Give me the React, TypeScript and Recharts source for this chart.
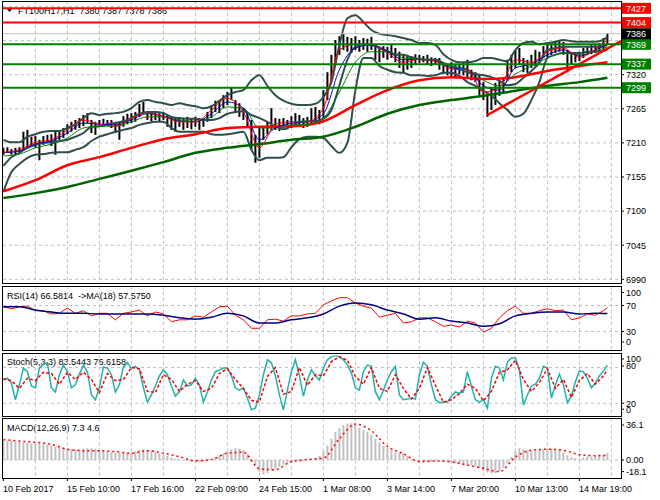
import React from 'react';
import { ComposedChart, Line, Bar, XAxis, YAxis, ReferenceLine, CartesianGrid } from 'recharts';

// FT100H17, H1 - one price bar kept for every second hourly bar
const barHigh = [
  7202, 7203, 7200, 7202, 7203, 7228, 7231, 7220, 7221, 7215,
  7221, 7223, 7224, 7228, 7228, 7234, 7240, 7244, 7247, 7250,
  7255, 7258, 7247, 7244, 7247, 7249, 7247, 7247, 7244, 7242,
  7253, 7257, 7258, 7260, 7273, 7276, 7261, 7260, 7260, 7258,
  7260, 7255, 7252, 7250, 7250, 7249, 7252, 7250, 7252, 7250,
  7249, 7260, 7271, 7278, 7279, 7287, 7292, 7299, 7279, 7274,
  7266, 7260, 7247, 7223, 7236, 7236, 7244, 7266, 7250, 7249,
  7250, 7247, 7253, 7258, 7255, 7250, 7252, 7266, 7268, 7263,
  7295, 7324, 7352, 7376, 7382, 7386, 7381, 7379, 7382, 7376,
  7379, 7378, 7381, 7368, 7365, 7366, 7365, 7368, 7363, 7357,
  7353, 7352, 7350, 7353, 7352, 7350, 7352, 7348, 7347, 7347,
  7337, 7336, 7340, 7336, 7337, 7340, 7344, 7328, 7324, 7319,
  7308, 7292, 7299, 7307, 7311, 7315, 7344, 7352, 7360, 7363,
  7347, 7344, 7352, 7360, 7357, 7366, 7368, 7369, 7373, 7376,
  7373, 7360, 7355, 7353, 7357, 7363, 7366, 7368, 7369, 7371,
  7379, 7387,
];
const barLow = [
  7191, 7194, 7191, 7192, 7194, 7199, 7202, 7205, 7202, 7182,
  7207, 7210, 7205, 7191, 7215, 7218, 7224, 7228, 7231, 7234,
  7237, 7242, 7226, 7223, 7236, 7236, 7237, 7234, 7226, 7215,
  7236, 7240, 7242, 7244, 7252, 7257, 7247, 7245, 7247, 7244,
  7247, 7236, 7231, 7228, 7236, 7231, 7234, 7232, 7236, 7231,
  7236, 7244, 7250, 7260, 7258, 7266, 7271, 7279, 7258, 7252,
  7247, 7236, 7199, 7178, 7186, 7215, 7224, 7231, 7231, 7229,
  7234, 7232, 7234, 7239, 7236, 7234, 7236, 7239, 7244, 7240,
  7250, 7279, 7311, 7339, 7352, 7360, 7357, 7355, 7360, 7357,
  7360, 7357, 7360, 7344, 7340, 7347, 7344, 7347, 7340, 7331,
  7324, 7328, 7331, 7337, 7339, 7340, 7337, 7334, 7336, 7328,
  7321, 7319, 7318, 7316, 7321, 7319, 7315, 7311, 7308, 7287,
  7279, 7252, 7263, 7271, 7286, 7292, 7311, 7324, 7331, 7336,
  7324, 7323, 7331, 7334, 7340, 7347, 7348, 7352, 7355, 7357,
  7352, 7324, 7337, 7340, 7342, 7347, 7352, 7353, 7355, 7357,
  7360, 7368,
];

// Bollinger bands, every 4th bar
const bbUpper = [
  7215, 7211, 7211, 7220, 7224, 7228, 7229, 7229, 7234, 7240,
  7250, 7258, 7255, 7257, 7258, 7260, 7266, 7276, 7279, 7276,
  7274, 7271, 7274, 7271, 7269, 7266, 7269, 7278, 7287, 7292,
  7295, 7311, 7319, 7302, 7287, 7278, 7273, 7271, 7271, 7273,
  7284, 7308, 7368, 7411, 7416, 7405, 7392, 7386, 7384, 7382,
  7379, 7376, 7371, 7371, 7368, 7353, 7344, 7340, 7340, 7342,
  7347, 7347, 7344, 7342, 7360, 7371, 7373, 7369, 7371, 7373,
  7376, 7374, 7373, 7373, 7373, 7376, 7381,
];
const bbMiddle = [
  7173, 7187, 7194, 7202, 7207, 7210, 7211, 7213, 7215, 7220,
  7226, 7236, 7237, 7240, 7242, 7245, 7250, 7257, 7260, 7260,
  7258, 7252, 7250, 7249, 7249, 7247, 7247, 7250, 7257, 7260,
  7261, 7255, 7250, 7244, 7237, 7232, 7237, 7244, 7245, 7245,
  7249, 7263, 7303, 7344, 7365, 7369, 7368, 7363, 7358, 7353,
  7352, 7348, 7345, 7344, 7344, 7339, 7334, 7329, 7324, 7321,
  7319, 7316, 7310, 7303, 7305, 7315, 7326, 7339, 7360, 7363,
  7365, 7365, 7365, 7365, 7365, 7366, 7369,
];
const bbLower = [
  7131, 7163, 7176, 7186, 7191, 7192, 7194, 7195, 7195, 7199,
  7203, 7213, 7220, 7224, 7228, 7231, 7234, 7239, 7242, 7244,
  7244, 7234, 7228, 7228, 7228, 7228, 7224, 7223, 7224, 7226,
  7228, 7199, 7182, 7186, 7186, 7187, 7203, 7216, 7220, 7220,
  7218, 7205, 7194, 7210, 7295, 7347, 7347, 7334, 7328, 7324,
  7323, 7319, 7319, 7318, 7319, 7323, 7323, 7318, 7308, 7302,
  7294, 7286, 7274, 7263, 7252, 7257, 7279, 7308, 7347, 7352,
  7355, 7355, 7355, 7357, 7357, 7358, 7360,
];

// fast averages, every 8th bar
const emaRed = [
  7195, 7199, 7211, 7215, 7231, 7247, 7240, 7237, 7250, 7258,
  7253, 7244, 7244, 7263, 7282, 7260, 7202, 7240, 7244, 7244,
  7266, 7360, 7369, 7369, 7355, 7340, 7345, 7342, 7329, 7328,
  7292, 7299, 7344, 7340, 7357, 7363, 7348, 7361, 7376,
];
const emaBlue = [
  7194, 7197, 7208, 7213, 7226, 7242, 7240, 7239, 7247, 7257,
  7253, 7245, 7244, 7257, 7276, 7266, 7215, 7234, 7242, 7244,
  7257, 7328, 7363, 7368, 7358, 7344, 7345, 7342, 7331, 7328,
  7302, 7295, 7331, 7337, 7352, 7360, 7350, 7360, 7369,
];
const emaGreen = [
  7189, 7192, 7202, 7208, 7218, 7234, 7237, 7237, 7244, 7252,
  7252, 7247, 7245, 7252, 7268, 7266, 7234, 7234, 7239, 7240,
  7250, 7292, 7340, 7357, 7357, 7347, 7345, 7342, 7334, 7329,
  7311, 7302, 7321, 7334, 7347, 7355, 7352, 7358, 7365,
];

// slow averages, every 16th bar
const maRed = [
  7132, 7150, 7174, 7187, 7202, 7216, 7224, 7234, 7236, 7237,
  7245, 7271, 7295, 7311, 7316, 7313, 7316, 7326, 7334, 7340,
];
const maGreen = [
  7121, 7129, 7139, 7152, 7165, 7179, 7194, 7202, 7208, 7215,
  7220, 7236, 7257, 7271, 7279, 7286, 7294, 7302, 7308, 7315,
];

const trendBars = [242, 308.8];
const trendPrices = [7255, 7374];

const resistance = [7427, 7404];
const support = [7369, 7337, 7299];
const lastPrice = 7386;
const priceTicks = [7320, 7265, 7210, 7155, 7100, 7045, 6990];
const priceGrid = [6990, 7045, 7100, 7155, 7210, 7265, 7320, 7375, 7430];

// RSI(14) every 4th bar, its MA(18) every 8th bar
const rsi = [
  68, 65, 68, 69, 62, 62, 57, 58, 66, 58,
  62, 54, 58, 58, 48, 58, 60, 63, 54, 60,
  57, 45, 48, 48, 54, 52, 60, 68, 69, 55,
  48, 35, 35, 48, 49, 46, 54, 54, 57, 58,
  71, 77, 82, 82, 74, 69, 66, 52, 55, 58,
  43, 45, 51, 51, 45, 38, 40, 37, 46, 43,
  29, 35, 51, 62, 69, 58, 58, 62, 65, 62,
  63, 48, 51, 57, 55, 62, 66.58,
];
const rsiMa = [
  68, 68, 63, 60, 58, 58, 57, 57, 57, 57,
  55, 51, 49, 52, 58, 54, 43, 43, 48, 51,
  57, 69, 74, 71, 63, 57, 49, 51, 46, 43,
  38, 42, 54, 58, 60, 60, 57, 58, 57.58,
];

// Stochastic(5,3,3): %K every 2nd bar, %D every 4th bar
const stochK = [
  59, 62, 54, 26, 51, 79, 73, 49, 46, 79,
  86, 88, 46, 39, 68, 84, 73, 46, 51, 69,
  84, 73, 34, 26, 46, 81, 79, 68, 39, 51,
  81, 88, 79, 82, 76, 46, 22, 34, 49, 66,
  76, 68, 49, 32, 39, 59, 49, 51, 62, 51,
  22, 39, 59, 73, 76, 79, 79, 66, 46, 42,
  46, 29, 9, 12, 34, 68, 93, 88, 66, 34,
  9, 42, 73, 93, 66, 32, 59, 76, 66, 59,
  79, 93, 98, 100, 98, 93, 84, 71, 46, 42,
  73, 84, 82, 39, 26, 42, 59, 73, 82, 34,
  26, 27, 29, 27, 68, 89, 82, 51, 26, 21,
  22, 22, 32, 39, 37, 39, 73, 49, 26, 22,
  26, 12, 62, 82, 79, 59, 89, 96, 96, 76,
  17, 34, 49, 52, 62, 82, 79, 29, 51, 69,
  51, 21, 32, 56, 74, 73, 62, 46, 54, 66,
  74, 83.54,
];
const stochD = [
  61, 58, 45, 62, 58, 72, 70, 52, 72, 60,
  72, 60, 38, 70, 58, 60, 80, 78, 40, 38,
  68, 60, 40, 52, 58, 40, 45, 70, 78, 60,
  45, 25, 22, 65, 80, 35, 40, 80, 50, 68,
  66, 90, 98, 92, 65, 52, 80, 45, 40, 68,
  45, 27, 45, 80, 50, 22, 26, 36, 52, 45,
  24, 40, 72, 76, 92, 60, 40, 55, 78, 45,
  60, 30, 58, 70, 52, 66, 76.62,
];

// MACD(12,26,9): histogram every 2nd bar, signal every 8th bar
const macdHist = [
  20.6, 20, 19.5, 19, 18.5, 18, 17.5, 17, 17, 17,
  16.5, 16, 15, 14, 13, 12, 11.5, 11, 11, 11,
  11.5, 12, 12, 11.5, 10, 9, 8.5, 8, 7.5, 7.5,
  7, 7, 7.5, 9, 10.5, 11, 10.5, 10, 9, 7,
  5, 4, 2.5, 1.5, 0.5, -0.5, -1, -1.5, -1.5, -2,
  -1.5, -1, 0.5, 3, 5, 7, 9, 11, 12, 11.5,
  10, 6, 1, -6, -12, -15, -14, -11, -9, -7,
  -5, -3.5, -2.5, -2, -1.5, -1, -0.5, 0.5, 2, 4,
  9, 15, 22, 29, 33, 36, 37.5, 37.8, 36, 33,
  31, 29, 26, 22, 18, 14.5, 12, 10, 8, 7.5,
  7, 4, 1, -1, -2, -2.5, -2.5, -2, -1, -0.5,
  -1, -2, -3, -3.5, -4, -4.5, -5, -5.5, -6, -8,
  -11, -13, -14, -13.5, -11, -8, -3, 3, 9, 12,
  11, 10, 9, 9.5, 10.5, 11, 11.5, 12, 11.5, 11,
  8, 5, 3, 2, 1.5, 2.5, 3.5, 3.5, 4, 4.5,
  5.5, 7.3,
];
const macdSignal = [
  21, 19.5, 18.3, 16.2, 11, 9.6, 9.6, 8.6, 6.9, 9.6,
  7, 3.4, -0.8, 0.5, 7, 8, -9, -10, -1.5, 0.5,
  2, 22, 37, 30, 14, 6.5, -1.5, -1, -2, -5.2,
  -8.6, -12, 3, 10, 11, 10, 5.5, 4.5, 4.6,
];

const timeLabels = [
  '10 Feb 2017', '15 Feb 10:00', '17 Feb 16:00', '22 Feb 09:00', '24 Feb 15:00',
  '1 Mar 08:00', '3 Mar 14:00', '7 Mar 20:00', '10 Mar 13:00', '14 Mar 19:00',
];

const FONT = "'Liberation Sans', Arial, sans-serif";
const LAST_BAR = 302;
const X_DOMAIN = [-0.2, 308.8];
const gridBars = Array.from({ length: 19 }, (_, n) => (n + 1) * 16);
const labelBars = timeLabels.map((_, n) => n * 32);

const pts = (values: number[], step: number) =>
  values.map((v, n) => ({ i: n === values.length - 1 ? LAST_BAR : n * step, v }));

const candles = barHigh.map((h, n) => ({ i: n * 2, h, l: barLow[n] }));
const trend = trendBars.map((i, n) => ({ i, v: trendPrices[n] }));

const boxColor = (v: number) =>
  resistance.includes(v) ? '#FF0000' : support.includes(v) ? '#008000' : v === lastPrice ? '#000000' : null;

function PriceTick(props: any) {
  const { x, y, payload } = props;
  const fill = boxColor(payload.value);
  return (
    <g>
      <line x1={x} x2={x + 3} y1={y} y2={y} stroke="#000" />
      {fill && <rect x={x + 1} y={y - 5.5} width={29} height={11} fill={fill} />}
      <text x={x + 5} y={y + 3.3} fontSize={9} fontFamily={FONT} fill={fill ? '#fff' : '#000'}>
        {payload.value}
      </text>
    </g>
  );
}

const sideTick = (nudge: Record<string, number>, fmt = (v: number) => String(v)) => (props: any) => {
  const { x, y, payload } = props;
  const ty = y + (nudge[String(payload.value)] || 0);
  return (
    <g>
      <line x1={x} x2={x + 3} y1={ty} y2={ty} stroke="#000" />
      <text x={x + 5} y={ty + 3.3} fontSize={9} fontFamily={FONT} fill="#000">
        {fmt(payload.value)}
      </text>
    </g>
  );
};

function TimeTick(props: any) {
  const { x, y, payload } = props;
  return (
    <g>
      <line x1={x} x2={x} y1={y} y2={y + 3} stroke="#000" />
      <text x={x - 0.5} y={y + 14} fontSize={9} fontFamily={FONT} fill="#000">
        {timeLabels[Math.round(payload.value / 32)]}
      </text>
    </g>
  );
}

const grid = (values: number[]) => (
  <CartesianGrid stroke="#C0C0C0" strokeDasharray="3 3" verticalValues={gridBars} horizontalValues={values} />
);

const frame = (top: number, height: number) => ({
  position: 'absolute' as const, left: 2, top, width: 620, height,
  border: '1px solid #000', boxSizing: 'border-box' as const, pointerEvents: 'none' as const,
});
const at = (top: number) => ({ position: 'absolute' as const, left: 0, top });

export default function App() {
  const line = { dot: false, activeDot: false, isAnimationActive: false, dataKey: 'v', type: 'linear' as const };
  const smooth = { ...line, type: 'monotone' as const };
  return (
    <div style={{ position: 'absolute', left: 0, top: 0, width: 660, height: 500, background: '#fff', fontFamily: FONT }}>
      <svg width={660} height={500} style={{ position: 'absolute', left: 0, top: 0 }}>
        <polygon points="7,9 12,9 9.5,12" fill="#000" />
        <text x={18} y={14} fontSize={9} fontFamily={FONT} style={{ whiteSpace: 'pre' }}>FT100H17,H1  7380 7387 7378 7386</text>
        <text x={7} y={298.5} fontSize={9} fontFamily={FONT} style={{ whiteSpace: 'pre' }}>RSI(14) 66.5814  -&gt;MA(18) 57.5750</text>
        <text x={7} y={365} fontSize={9} fontFamily={FONT} style={{ whiteSpace: 'pre' }}>Stoch(5,3,3) 83.5443 76.6158</text>
        <text x={7} y={431} fontSize={9} fontFamily={FONT} style={{ whiteSpace: 'pre' }}>MACD(12,26,9) 7.3 4.6</text>
      </svg>

      <div style={at(0)}>
        <ComposedChart width={660} height={285} data={candles} margin={{ top: 1, right: 0, bottom: 2, left: 3 }}>
          {grid(priceGrid)}
          <XAxis type="number" dataKey="i" domain={X_DOMAIN} allowDataOverflow hide />
          <YAxis orientation="right" width={39} domain={[6984.1, 7438.8]} allowDataOverflow interval={0}
            ticks={[...priceTicks, ...support, lastPrice, ...resistance]}
            axisLine={false} tickLine={false} tickSize={0} tickMargin={0} tick={(p: any) => <PriceTick {...p} />} />
          <Bar dataKey={(d: any) => [d.l, d.h]} fill="#000" barSize={2} isAnimationActive={false} />
          <Line {...smooth} data={pts(bbUpper, 4)} stroke="#2F4F4F" strokeWidth={2} />
          <Line {...smooth} data={pts(bbMiddle, 4)} stroke="#2F4F4F" strokeWidth={2} />
          <Line {...smooth} data={pts(bbLower, 4)} stroke="#2F4F4F" strokeWidth={2} />
          <Line {...smooth} data={pts(maGreen, 16)} stroke="#006400" strokeWidth={2.5} />
          <Line {...smooth} data={pts(maRed, 16)} stroke="#FF0000" strokeWidth={2.5} />
          <Line {...smooth} data={pts(emaGreen, 8)} stroke="#008000" strokeWidth={1} />
          <Line {...smooth} data={pts(emaBlue, 8)} stroke="#0000CD" strokeWidth={1} />
          <Line {...smooth} data={pts(emaRed, 8)} stroke="#FF0000" strokeWidth={1} />
          <Line {...line} data={trend} stroke="#FF0000" strokeWidth={2.5} />
          <ReferenceLine y={lastPrice} stroke="#C0C0C0" />
          {resistance.map((v) => <ReferenceLine key={v} y={v} stroke="#FF0000" strokeWidth={2} />)}
          {support.map((v) => <ReferenceLine key={v} y={v} stroke="#008000" strokeWidth={2} />)}
        </ComposedChart>
      </div>

      <div style={at(285)}>
        <ComposedChart width={660} height={66} data={pts(rsi, 4)} margin={{ top: 1, right: 0, bottom: 0, left: 3 }}>
          {grid([70, 30])}
          <XAxis type="number" dataKey="i" domain={X_DOMAIN} allowDataOverflow hide />
          <YAxis orientation="right" width={39} domain={[0, 100]} allowDataOverflow interval={0} ticks={[100, 70, 30, 0]}
            axisLine={false} tickLine={false} tickSize={0} tickMargin={0} tick={sideTick({ '100': 6.5, '0': -9 })} />
          <Line {...line} stroke="#FF0000" strokeWidth={1} />
          <Line {...smooth} data={pts(rsiMa, 8)} stroke="#000080" strokeWidth={1.5} />
        </ComposedChart>
      </div>

      <div style={at(352)}>
        <ComposedChart width={660} height={64} data={pts(stochK, 2)} margin={{ top: 3.6, right: 0, bottom: 0.8, left: 3 }}>
          {grid([80, 20])}
          <XAxis type="number" dataKey="i" domain={X_DOMAIN} allowDataOverflow hide />
          <YAxis orientation="right" width={39} domain={[0, 100]} allowDataOverflow interval={0} ticks={[100, 80, 20, 0]}
            axisLine={false} tickLine={false} tickSize={0} tickMargin={0} tick={sideTick({ '100': 3.4, '80': -1.5, '0': -6 })} />
          <Line {...line} stroke="#20B2AA" strokeWidth={1.5} />
          <Line {...line} data={pts(stochD, 4)} stroke="#FF0000" strokeWidth={1.5} strokeDasharray="3 2" />
        </ComposedChart>
      </div>

      <div style={at(418)}>
        <ComposedChart width={660} height={82} data={pts(macdHist, 2)} margin={{ top: 0.5, right: 0, bottom: 0, left: 3 }}>
          {grid([0])}
          <XAxis type="number" dataKey="i" domain={X_DOMAIN} allowDataOverflow height={22} ticks={labelBars} interval={0}
            axisLine={false} tickLine={false} tickSize={0} tickMargin={0} tick={(p: any) => <TimeTick {...p} />} />
          <YAxis orientation="right" width={39} domain={[-18.57, 42.8]} allowDataOverflow interval={0} ticks={[36.1, 0, -18.1]}
            axisLine={false} tickLine={false} tickSize={0} tickMargin={0}
            tick={sideTick({ '-18.1': -6 }, (v) => (v === 0 ? '0.00' : String(v)))} />
          <Bar dataKey="v" fill="#C0C0C0" barSize={2} isAnimationActive={false} />
          <Line {...smooth} data={pts(macdSignal, 8)} stroke="#FF0000" strokeWidth={1.5} strokeDasharray="2 3" />
        </ComposedChart>
      </div>

      <div style={frame(1, 283)} />
      <div style={frame(286, 65)} />
      <div style={frame(353, 64)} />
      <div style={frame(418, 61)} />
    </div>
  );
}
